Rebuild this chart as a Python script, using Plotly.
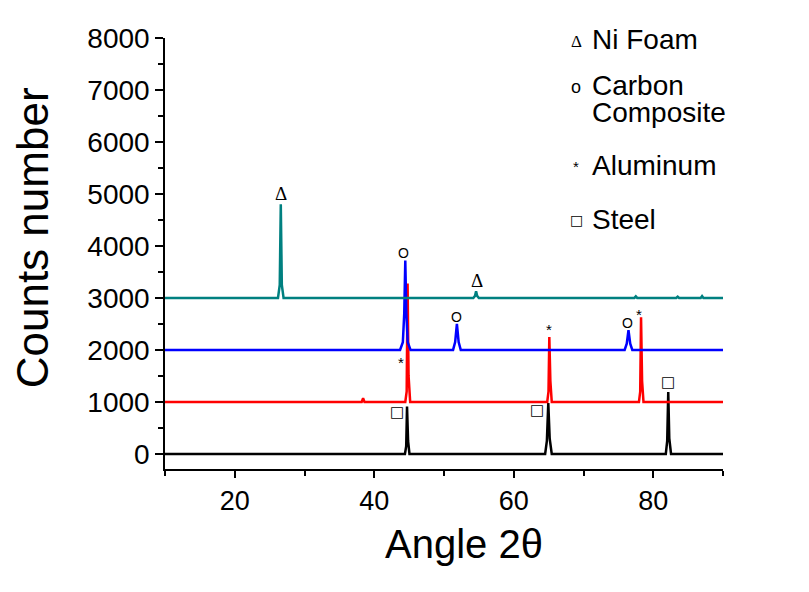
import plotly.graph_objects as go

# ---- data ----
ni_x = [10, 26.2, 26.45, 26.6, 26.75, 27.0, 54.2, 54.45, 54.6, 54.75, 55.0,
        77.3, 77.5, 77.7, 83.3, 83.5, 83.7, 86.8, 87.0, 87.2, 90]
ni_y = [3000, 3000, 3250, 4800, 3250, 3000, 3000, 3040, 3130, 3040, 3000,
        3000, 3030, 3000, 3000, 3025, 3000, 3000, 3035, 3000, 3000]

carbon_x = [10, 43.7, 44.1, 44.3, 44.45, 44.6, 44.8, 45.2, 51.3, 51.6, 51.85, 52.1, 52.4,
            75.9, 76.2, 76.45, 76.7, 77.0, 90]
carbon_y = [2000, 2000, 2150, 2700, 3720, 2700, 2150, 2000, 2000, 2150, 2500, 2150, 2000,
            2000, 2120, 2380, 2120, 2000, 2000]

alu_x = [10, 38.2, 38.4, 38.6, 44.45, 44.65, 44.78, 44.92, 45.15, 64.8, 64.98, 65.1, 65.25, 65.45,
         77.95, 78.13, 78.25, 78.4, 78.6, 90]
alu_y = [1000, 1000, 1070, 1000, 1000, 1200, 3280, 1500, 1000, 1000, 1200, 2250, 1400, 1000,
         1000, 1200, 2630, 1400, 1000, 1000]

steel_x = [10, 44.4, 44.58, 44.7, 44.85, 45.05, 64.5, 64.75, 64.95, 65.15, 65.45,
           81.8, 82.0, 82.15, 82.3, 82.55, 90]
steel_y = [0, 0, 150, 910, 250, 0, 0, 250, 980, 300, 0, 0, 250, 1190, 300, 0, 0]

# peak markers (symbol, x, y)
mark_sym = ["Δ", "Δ", "O", "O", "O", "*", "*", "*", "□", "□", "□"]
mark_x = [26.6, 54.7, 44.2, 51.8, 76.3, 43.8, 65.0, 77.9, 43.2, 63.3, 82.1]
mark_y = [5000, 3340, 3860, 2630, 2515, 1750, 2400, 2690, 806, 845, 1380]

legend_sym = ["Δ", "o", "*", "□"]
legend_lines = [["Ni Foam"], ["Carbon", "Composite"], ["Aluminum"], ["Steel"]]

x_ticks = [20, 40, 60, 80]
y_ticks = [0, 1000, 2000, 3000, 4000, 5000, 6000, 7000, 8000]

FONT = "Liberation Sans, Arial, sans-serif"

fig = go.Figure()
for xs, ys, col in [(steel_x, steel_y, "#000000"), (alu_x, alu_y, "#ff0000"),
                    (carbon_x, carbon_y, "#0000ff"), (ni_x, ni_y, "#008080")]:
    fig.add_trace(go.Scatter(x=xs, y=ys, mode="lines", line=dict(color=col, width=2.5),
                             showlegend=False, hoverinfo="skip"))

for s, x, y in zip(mark_sym, mark_x, mark_y):
    fam = "Liberation Serif, serif" if s == "Δ" else ("DejaVu Sans" if s == "□" else FONT)
    size = {"Δ": 19, "O": 14, "*": 15, "□": 15}[s]
    fig.add_annotation(x=x, y=y, xref="x", yref="y", text=s, showarrow=False,
                       font=dict(family=fam, size=size, color="black"))

# legend-like block
sym_y = [0.993, 0.886, 0.703, 0.578]
txt_y = [[0.997], [0.889, 0.828], [0.705], [0.580]]
for s, sy, lines, tys in zip(legend_sym, sym_y, legend_lines, txt_y):
    fam = "Liberation Serif, serif" if s == "Δ" else ("DejaVu Sans" if s == "□" else FONT)
    size = {"Δ": 17, "o": 18, "*": 15, "□": 14}[s]
    fig.add_annotation(x=0.7366, y=sy, xref="paper", yref="paper", text=s, showarrow=False,
                       xanchor="center", yanchor="middle",
                       font=dict(family=fam, size=size, color="black"))
    for ln, ty in zip(lines, tys):
        fig.add_annotation(x=0.7616, y=ty, xref="paper", yref="paper", text=ln, showarrow=False,
                           xanchor="left", yanchor="middle",
                           font=dict(family=FONT, size=28, color="black"))

# axis titles
fig.add_annotation(x=-0.236, y=0.536, xref="paper", yref="paper", text="Counts number",
                   textangle=-90, showarrow=False, xanchor="center", yanchor="middle",
                   font=dict(family=FONT, size=44, color="black"))
fig.add_annotation(x=0.536, y=-0.174, xref="paper", yref="paper", text="Angle 2θ",
                   showarrow=False, xanchor="center", yanchor="middle",
                   font=dict(family=FONT, size=40, color="black"))

fig.update_layout(
    width=801, height=584,
    margin=dict(l=157, r=86, t=30, b=123),
    paper_bgcolor="white", plot_bgcolor="white",
    font=dict(family=FONT, color="black"),
    xaxis=dict(range=[10, 90], showgrid=False, zeroline=False, showline=True,
               linecolor="black", linewidth=1.5, ticks="outside", ticklen=7,
               tickcolor="black", tickwidth=1.5,
               tickvals=x_ticks, ticktext=[str(v) for v in x_ticks],
               tickfont=dict(size=27, family=FONT),
               minor=dict(dtick=10, tick0=10, ticks="outside", ticklen=5, tickcolor="black", tickwidth=1.5)),
    yaxis=dict(range=[-290, 8000], showgrid=False, zeroline=False, showline=True,
               linecolor="black", linewidth=1.5, ticks="outside", ticklen=8,
               tickcolor="black", tickwidth=1.5,
               tickvals=y_ticks, ticktext=[str(v) for v in y_ticks],
               tickfont=dict(size=28, family=FONT),
               minor=dict(dtick=500, tick0=0, ticks="outside", ticklen=5, tickcolor="black", tickwidth=1.5)),
)

fig.write_html("out.html")
